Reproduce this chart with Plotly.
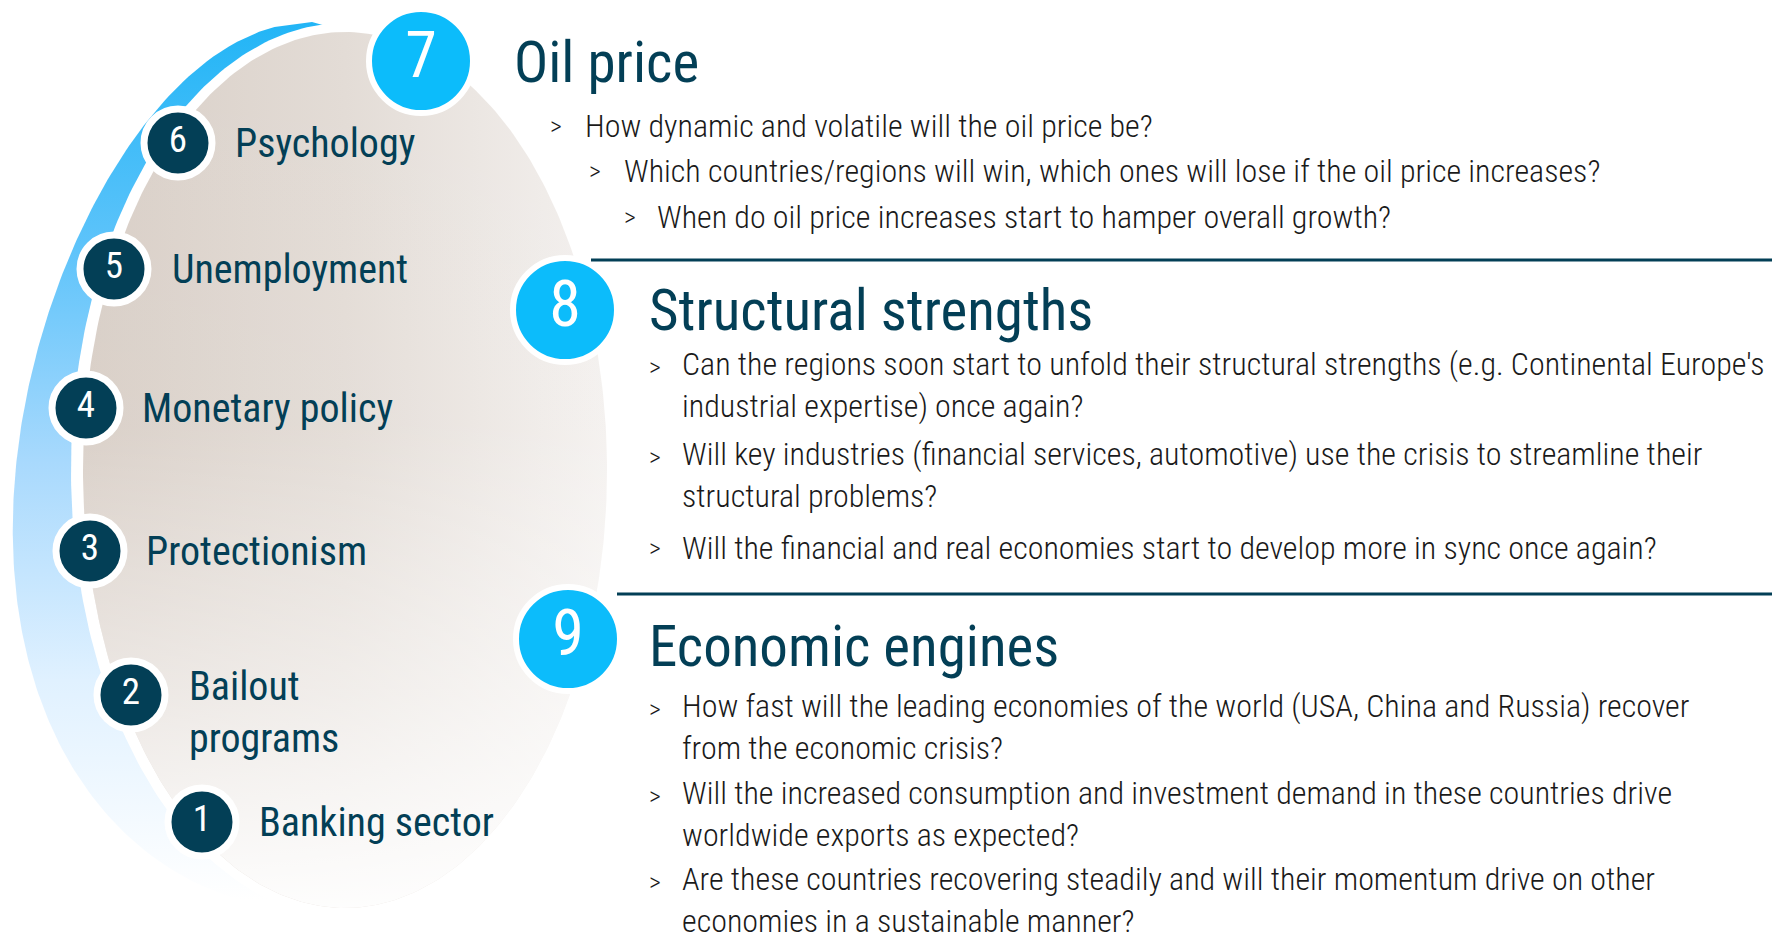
"""
Crisis factors infographic: six factors on a shell on the left,
three open questions (oil price, structural strengths, economic engines) on the right.
"""

import numpy as np
import plotly.graph_objects as go

W, H = 1780, 934
PAGE_MARGIN = 8  # default body margin of the html page

NAVY = "#033f56"
CYAN = "#0cbcfb"
TEXT = "#1a1a1a"
HEAD_FONT = "Roboto Condensed, Liberation Sans, sans-serif"
BODY_FONT = "Roboto Condensed, Liberation Sans, sans-serif"

# crisis factors along the shell, bottom to top
factor_numbers = ["1", "2", "3", "4", "5", "6"]
factor_labels = ["Banking sector", "Bailout<br>programs", "Protectionism",
                 "Monetary policy", "Unemployment", "Psychology"]

# open topics on the right
topic_numbers = ["7", "8", "9"]
topic_titles = ["Oil price", "Structural strengths", "Economic engines"]

oil_questions = [
    ["How dynamic and volatile will the oil price be?"],
    ["Which countries/regions will win, which ones will lose if the oil price increases?"],
    ["When do oil price increases start to hamper overall growth?"],
]
structural_questions = [
    ["Can the regions soon start to unfold their structural strengths (e.g. Continental Europe's",
     "industrial expertise) once again?"],
    ["Will key industries (financial services, automotive) use the crisis to streamline their",
     "structural problems?"],
    ["Will the financial and real economies start to develop more in sync once again?"],
]
engine_questions = [
    ["How fast will the leading economies of the world (USA, China and Russia) recover",
     "from the economic crisis?"],
    ["Will the increased consumption and investment demand in these countries drive",
     "worldwide exports as expected?"],
    ["Are these countries recovering steadily and will their momentum drive on other",
     "economies in a sustainable manner?"],
]

# layout positions (screen pixels, y down)
factor_x = [202, 131, 90, 86, 114, 178]
factor_y = [822, 695, 551, 408, 269, 143]
label_x = [257, 187, 144, 140, 170, 233]
label_y = [822, 712, 551, 408, 269, 143]

topic_x = [421, 565, 568]
topic_y = [61, 310, 639]
title_x = [512, 647, 647]
title_y = [62, 310, 646]

# oil price bullets are staircased
oil_arrow_x = [548, 587, 622]
oil_text_x = [583, 622, 655]
oil_y = [126, 171, 217]

arrow_x, body_x = 647, 680
structural_y = [367, 457, 548]
engine_y = [709, 796, 882]

separator_y = [260, 594]
separator_x0 = [591, 617]

BODY_SIZE = 32
LINE_H = 1.3 * BODY_SIZE
REF_LINE_H = 36.5

fig = go.Figure()

t = np.linspace(0, 2 * np.pi, 361)

# blue crescent (egg shaped, only its left side shows)
u = np.linspace(-1, 1, 181)
left_x = 312 - 296 * np.sqrt(1 - u ** 2) * (1 + 0.15 * u)
right_x = 312 + 120 * np.sqrt(1 - u ** 2)
egg_x = np.concatenate([left_x, right_x[::-1]])
egg_y = np.concatenate([466 + 444 * u, (466 + 444 * u)[::-1]])
fig.add_trace(go.Scatter(
    x=egg_x, y=egg_y, mode="lines", line=dict(width=0),
    fill="toself",
    fillgradient=dict(type="vertical", start=22, stop=900,
                      colorscale=[[0, "#22b5f6"], [0.25, "#5cc3fa"], [0.5, "#a8d9fd"],
                                  [0.75, "#e0f1ff"], [1, "#ffffff"]]),
    hoverinfo="skip", showlegend=False
))

# white gap around the shell
fig.add_trace(go.Scatter(
    x=345 + 274 * np.cos(t), y=470 + 447 * np.sin(t), mode="lines",
    line=dict(width=0), fill="toself", fillcolor="white",
    hoverinfo="skip", showlegend=False
))

# beige shell, diagonal fade approximated with two layers
shell_x = 345 + 262 * np.cos(t)
shell_y = 470 + 438 * np.sin(t)
fig.add_trace(go.Scatter(
    x=shell_x, y=shell_y, mode="lines", line=dict(width=0),
    fill="toself",
    fillgradient=dict(type="horizontal", start=83, stop=607,
                      colorscale=[[0, "#d8cec6"], [0.5, "#e3dcd6"], [1, "#f4f1ef"]]),
    hoverinfo="skip", showlegend=False
))
fig.add_trace(go.Scatter(
    x=shell_x, y=shell_y, mode="lines", line=dict(width=0),
    fill="toself",
    fillgradient=dict(type="vertical", start=32, stop=908,
                      colorscale=[[0, "rgba(255,255,255,0)"], [0.45, "rgba(255,255,255,0.05)"],
                                  [0.75, "rgba(255,255,255,0.5)"], [1, "rgba(255,255,255,0.95)"]]),
    hoverinfo="skip", showlegend=False
))

# numbered circles
fig.add_trace(go.Scatter(
    x=factor_x, y=factor_y, mode="markers+text",
    marker=dict(size=68, color=NAVY, line=dict(color="white", width=7)),
    text=factor_numbers, textposition="middle center",
    textfont=dict(family=HEAD_FONT, size=37, color="white"),
    hoverinfo="skip", showlegend=False
))
fig.add_trace(go.Scatter(
    x=topic_x, y=topic_y, mode="markers+text",
    marker=dict(size=104, color=CYAN, line=dict(color="white", width=6)),
    text=topic_numbers, textposition="middle center",
    textfont=dict(family=HEAD_FONT, size=64, color="white"),
    hoverinfo="skip", showlegend=False
))

annotations = []
for lbl, x, y in zip(factor_labels, label_x, label_y):
    annotations.append(dict(x=x, y=y, text=lbl, xanchor="left", yanchor="middle",
                            align="left", font=dict(family=HEAD_FONT, size=40, color=NAVY)))

for title, x, y in zip(topic_titles, title_x, title_y):
    annotations.append(dict(x=x, y=y, text=title, xanchor="left", yanchor="middle",
                            font=dict(family=HEAD_FONT, size=57, color=NAVY)))


def bullet(x_arrow, x_text, y_first, lines):
    annotations.append(dict(x=x_arrow, y=y_first, text=">", xanchor="left", yanchor="middle",
                            font=dict(family=BODY_FONT, size=26, color=TEXT, weight=300)))
    # plotly's line spacing is a bit looser than the reference, split the difference
    extra = len(lines) - 1
    y_mid = y_first + extra * LINE_H / 2 - extra * (LINE_H - REF_LINE_H) / 2
    annotations.append(dict(x=x_text, y=y_mid, text="<br>".join(lines),
                            xanchor="left", yanchor="middle", align="left",
                            font=dict(family=BODY_FONT, size=BODY_SIZE, color=TEXT, weight=300)))


for q, xa, xt, y in zip(oil_questions, oil_arrow_x, oil_text_x, oil_y):
    bullet(xa, xt, y, q)
for q, y in zip(structural_questions, structural_y):
    bullet(arrow_x, body_x, y, q)
for q, y in zip(engine_questions, engine_y):
    bullet(arrow_x, body_x, y, q)

for a in annotations:
    a.update(showarrow=False, xref="x", yref="y")

shapes = [dict(type="line", x0=x0, x1=W, y0=y, y1=y, xref="x", yref="y",
               line=dict(color=NAVY, width=3), layer="above")
          for x0, y in zip(separator_x0, separator_y)]

# the page adds an 8px margin, so the axes are shifted to keep screen coordinates
fig.update_layout(
    width=W - PAGE_MARGIN, height=H - PAGE_MARGIN,
    margin=dict(l=0, r=0, t=0, b=0),
    paper_bgcolor="white", plot_bgcolor="white",
    xaxis=dict(range=[PAGE_MARGIN, W], visible=False, fixedrange=True),
    yaxis=dict(range=[H, PAGE_MARGIN], visible=False, fixedrange=True),
    annotations=annotations,
    shapes=shapes,
    showlegend=False,
)

fig.write_html("out.html", config={"displayModeBar": False})
